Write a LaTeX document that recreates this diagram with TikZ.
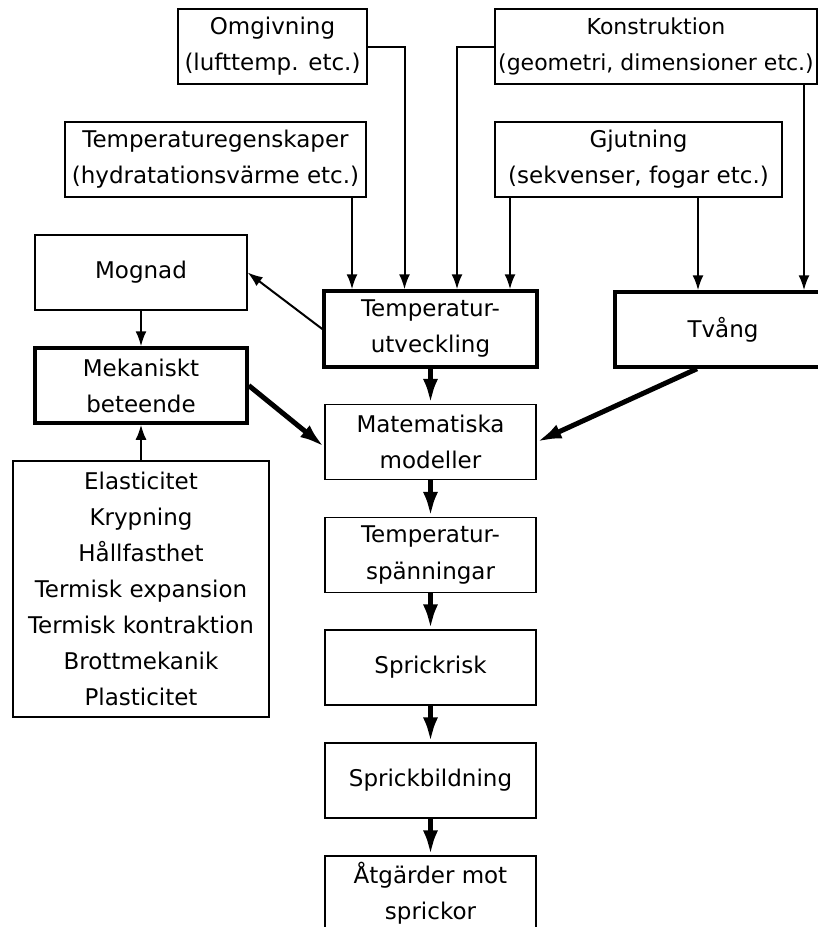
\documentclass[tikz,border=0pt]{standalone}
\usepackage{fontspec}
\setmainfont{DejaVu Sans}
\usetikzlibrary{arrows.meta}
\tikzset{
  every node/.style={font=\fontsize{23}{36}\selectfont,text=black},
  box/.style={draw,line width=1.3pt,align=center,inner sep=0pt,minimum width=211,minimum height=75},
  heavybox/.style={box,line width=3.5pt},
  feed/.style={-{Latex[length=15pt,width=11pt]},line width=2pt},
  flow/.style={-{Latex[length=25pt,width=15pt]},line width=5pt}
}
\begin{document}
\begin{tikzpicture}[x=1pt,y=-1pt]
  \useasboundingbox (0,0) rectangle (818,927);
  % inputs
  \node[box,minimum width=189] (omg) at (272.5,46.5) {Omgivning\\(lufttemp. etc.)};
  \node[box,minimum width=322,font=\fontsize{22}{36}\selectfont] (konst) at (656,46.5) {Konstruktion\\(geometri, dimensioner etc.)};
  \node[box,minimum width=301] (tempeg) at (215.5,159.5) {Temperaturegenskaper\\(hydratationsvärme etc.)};
  \node[box,minimum width=287] (gjut) at (638.5,159.5) {Gjutning\\(sekvenser, fogar etc.)};

  \node[box,minimum width=212] (mognad) at (141,272.5) {Mognad};
  \node[heavybox,minimum width=212] (mek) at (141,385.5) {Mekaniskt\\beteende};
  \node[box,minimum width=256,minimum height=256] (elast) at (141,589)
    {Elasticitet\\Krypning\\Hållfasthet\\Termisk expansion\\Termisk kontraktion\\Brottmekanik\\Plasticitet};

  \node[heavybox,minimum width=213,minimum height=76] (tutv) at (430.5,329) {Temperatur-\\utveckling};
  \node[heavybox,minimum width=216] (tvang) at (723,329.5) {Tvång};

  % main column
  \node[box] (matmod) at (430.5,442) {Matematiska\\modeller};
  \node[box] (tspan) at (430.5,555) {Temperatur-\\spänningar};
  \node[box] (risk) at (430.5,667.5) {Sprickrisk};
  \node[box] (bild) at (430.5,780.5) {Sprickbildning};
  \node[box] (atg) at (430.5,893.5) {Åtgärder mot\\sprickor};

  \draw[feed] ([xshift=136.5pt]tempeg.south) -- ([xshift=136.5pt]tempeg.south |- tutv.north);
  \draw[feed] (omg.east) -| ([xshift=-26pt]tutv.north);
  \draw[feed] (konst.west) -| ([xshift=26.5pt]tutv.north);
  \draw[feed] ([xshift=-128.5pt]gjut.south) -- ([xshift=-128.5pt]gjut.south |- tutv.north);
  \draw[feed] ([xshift=59.5pt]gjut.south) -- ([xshift=59.5pt]gjut.south |- tvang.north);
  \draw[feed] ([xshift=148pt]konst.south) -- ([xshift=148pt]konst.south |- tvang.north);
  \draw[feed] (tutv.west) -- (mognad.east);
  \draw[feed] (mognad) -- (mek);
  \draw[feed] (elast) -- (mek);

  \draw[flow] (mek.east) -- ([yshift=-5pt]matmod.west);
  \draw[flow] ([xshift=-26pt]tvang.south) -- (matmod.east);
  \draw[flow] (tutv) -- (matmod);
  \draw[flow] (matmod) -- (tspan);
  \draw[flow] (tspan) -- (risk);
  \draw[flow] (risk) -- (bild);
  \draw[flow] (bild) -- (atg);
\end{tikzpicture}
\end{document}
